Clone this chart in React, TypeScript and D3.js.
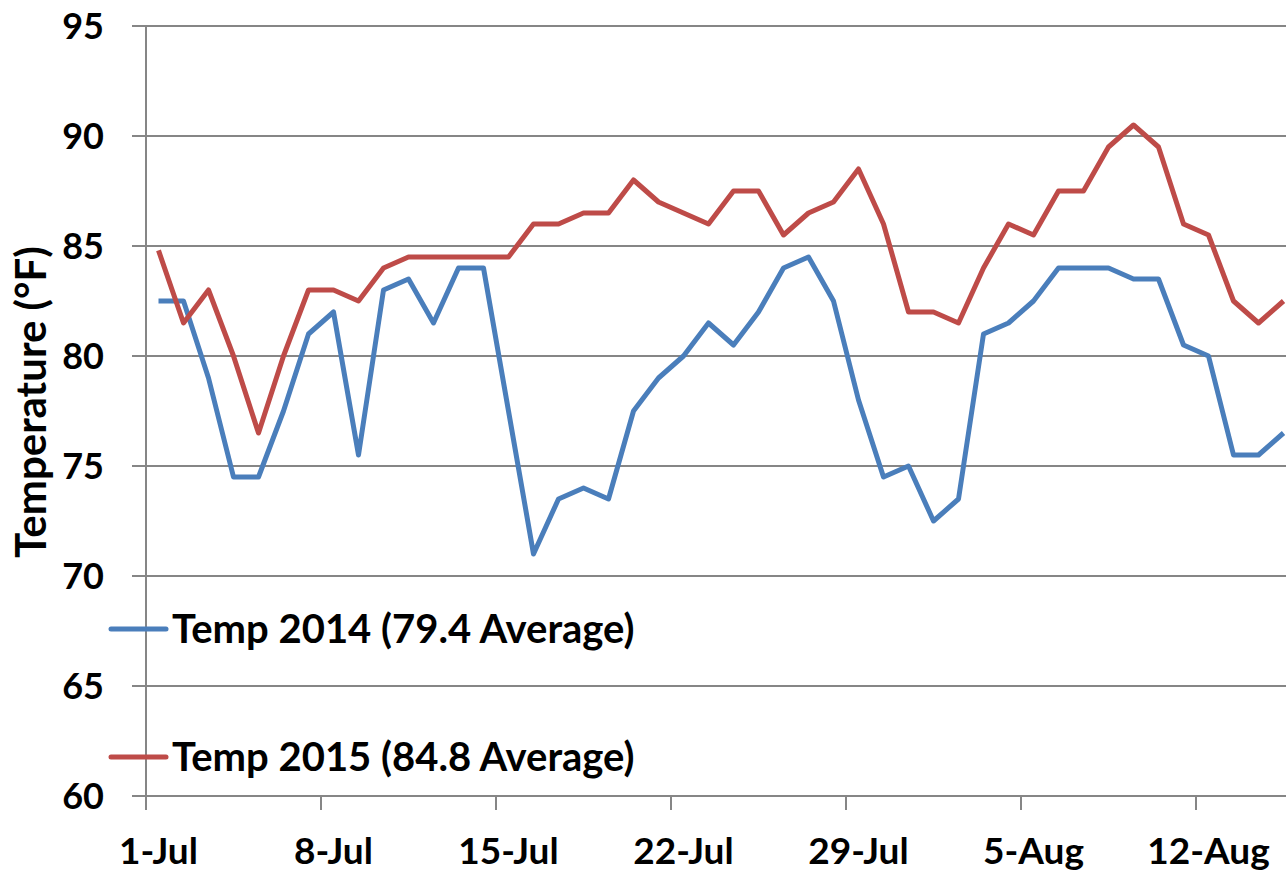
import * as d3 from 'd3';
import React, { useEffect, useRef } from 'react';

const width = 1286;
const height = 872;
const margin = { left: 146, top: 26, bottom: 76 };
const dayWidth = 25;

const startDate = new Date(2015, 6, 1);
const dayCount = 46;

const temp2014 = [
  82.5, 82.5, 79, 74.5, 74.5, 77.5, 81, 82, 75.5, 83, 83.5, 81.5, 84, 84, 77.5, 71, 73.5, 74,
  73.5, 77.5, 79, 80, 81.5, 80.5, 82, 84, 84.5, 82.5, 78, 74.5, 75, 72.5, 73.5, 81, 81.5, 82.5,
  84, 84, 84, 83.5, 83.5, 80.5, 80, 75.5, 75.5, 76.5,
];
const temp2015 = [
  84.8, 81.5, 83, 80, 76.5, 80, 83, 83, 82.5, 84, 84.5, 84.5, 84.5, 84.5, 84.5, 86, 86, 86.5,
  86.5, 88, 87, 86.5, 86, 87.5, 87.5, 85.5, 86.5, 87, 88.5, 86, 82, 82, 81.5, 84, 86, 85.5, 87.5,
  87.5, 89.5, 90.5, 89.5, 86, 85.5, 82.5, 81.5, 82.5,
];
const yTicks = [60, 65, 70, 75, 80, 85, 90, 95];

const series = [
  { name: 'Temp 2014 (79.4 Average)', values: temp2014, color: '#4A7EBB' },
  { name: 'Temp 2015 (84.8 Average)', values: temp2015, color: '#BE4B48' },
];

const fontFamily = 'Lato, "Open Sans", sans-serif';

const App = () => {
  const svgRef = useRef(null);

  useEffect(() => {
    const svg = d3.select(svgRef.current);
    svg.selectAll('*').remove();

    const days = d3.timeDay.range(startDate, d3.timeDay.offset(startDate, dayCount));
    const plotBottom = height - margin.bottom;

    // category axis: one slot per day, points in the slot centres
    const x = d3
      .scaleLinear()
      .domain([0, days.length + 1])
      .range([margin.left, margin.left + (days.length + 1) * dayWidth]);
    const y = d3.scaleLinear().domain([60, 95]).range([plotBottom, margin.top]);

    svg
      .append('g')
      .selectAll('line')
      .data(yTicks)
      .enter()
      .append('line')
      .attr('x1', margin.left - 14)
      .attr('x2', width)
      .attr('y1', (d) => y(d))
      .attr('y2', (d) => y(d))
      .attr('stroke', '#868686')
      .attr('stroke-width', 2);

    svg
      .append('line')
      .attr('x1', margin.left)
      .attr('x2', margin.left)
      .attr('y1', y(95))
      .attr('y2', plotBottom + 14)
      .attr('stroke', '#868686')
      .attr('stroke-width', 2);

    const weekIdx = days.map((d, i) => i).filter((i) => i % 7 === 0);

    svg
      .append('g')
      .selectAll('line')
      .data(weekIdx)
      .enter()
      .append('line')
      .attr('x1', (i) => x(i))
      .attr('x2', (i) => x(i))
      .attr('y1', plotBottom)
      .attr('y2', plotBottom + 14)
      .attr('stroke', '#868686')
      .attr('stroke-width', 2);

    const fmt = d3.timeFormat('%-d-%b');
    svg
      .append('g')
      .selectAll('text')
      .data(weekIdx)
      .enter()
      .append('text')
      .attr('x', (i) => x(i + 0.5))
      .attr('y', plotBottom + 68)
      .attr('text-anchor', 'middle')
      .style('font-family', fontFamily)
      .style('font-weight', 'bold')
      .style('font-size', '37px')
      .text((i) => fmt(days[i]));

    svg
      .append('g')
      .selectAll('text')
      .data(yTicks)
      .enter()
      .append('text')
      .attr('x', 104)
      .attr('y', (d) => y(d))
      .attr('dy', '0.35em')
      .attr('text-anchor', 'end')
      .style('font-family', fontFamily)
      .style('font-weight', 'bold')
      .style('font-size', '36px')
      .text((d) => d);

    svg
      .append('text')
      .attr('transform', 'translate(46,402) rotate(-90)')
      .attr('text-anchor', 'middle')
      .style('font-family', fontFamily)
      .style('font-weight', 'bold')
      .style('font-size', '42px')
      .text('Temperature (°F)');

    const line = d3
      .line<number>()
      .x((d, i) => x(i + 0.5))
      .y((d) => y(d));

    series.forEach((s) => {
      svg
        .append('path')
        .datum(s.values)
        .attr('d', line)
        .style('fill', 'none')
        .style('stroke', s.color)
        .style('stroke-width', 5)
        .style('stroke-linejoin', 'round');
    });

    // legend
    const legendY = [629, 757];
    series.forEach((s, i) => {
      svg
        .append('line')
        .attr('x1', 111)
        .attr('x2', 166)
        .attr('y1', legendY[i])
        .attr('y2', legendY[i])
        .attr('stroke', s.color)
        .attr('stroke-width', 5)
        .attr('stroke-linecap', 'round');
      svg
        .append('text')
        .attr('x', 172)
        .attr('y', legendY[i])
        .attr('dy', '0.35em')
        .style('font-family', fontFamily)
        .style('font-weight', 'bold')
        .style('font-size', '40px')
        .text(s.name);
    });
  }, []);

  return (
    <div style={{ position: 'fixed', left: 0, top: 0, background: '#fff' }}>
      <svg ref={svgRef} width={width} height={height} style={{ display: 'block' }} />
    </div>
  );
};

export default App;
